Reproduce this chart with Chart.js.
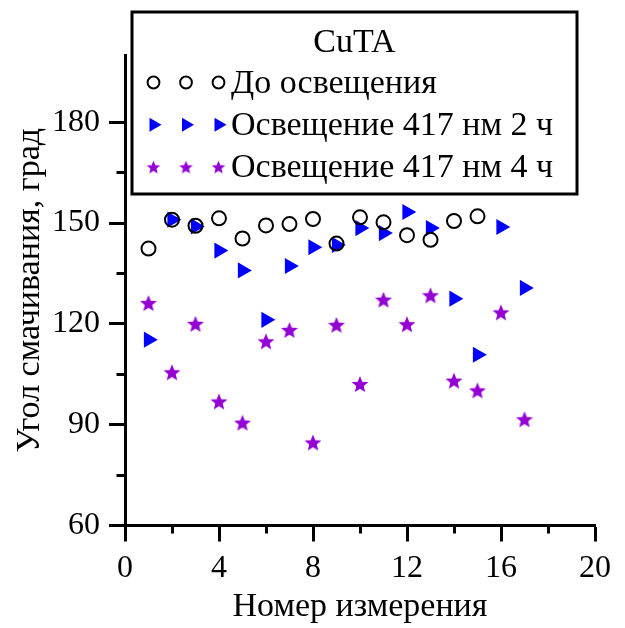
<!DOCTYPE html>
<html>
<head>
<meta charset="utf-8">
<script src="https://cdn.jsdelivr.net/npm/chart.js@4.4.1/dist/chart.umd.min.js"></script>
<style>
  body { margin: 0; background: #fff; }
  .wrapper { width: 625px; height: 628px; }
</style>
</head>
<body>
<div class="wrapper"><canvas id="angleChart"></canvas></div>
<script>
// data
const measurementNo = [1, 2, 3, 4, 5, 6, 7, 8, 9, 10, 11, 12, 13, 14, 15, 16, 17]
const beforeLight = [142.4, 151.0, 149.2, 151.4, 145.4, 149.3, 149.7, 151.2, 143.9, 151.7, 150.2, 146.4, 145.0, 150.6, 152.0]
const light2h = [115.3, 151.0, 149.0, 141.8, 135.9, 121.2, 137.2, 142.8, 143.5, 148.5, 147.0, 153.3, 148.5, 127.5, 110.8, 148.8, 130.7]
const light4h = [126.2, 105.6, 120.0, 96.9, 90.6, 114.8, 118.2, 84.7, 119.7, 102.1, 127.2, 119.9, 128.5, 103.1, 100.2, 123.4, 91.6]

const seriesNames = ['До освещения', 'Освещение 417 нм 2 ч', 'Освещение 417 нм 4 ч']
const legendTitle = 'CuTA'

const xTicks = [0, 2, 4, 6, 8, 10, 12, 14, 16, 18, 20]
const xLabels = [0, 4, 8, 12, 16, 20]
const yTicks = [60, 75, 90, 105, 120, 135, 150, 165, 180]
const yLabels = [60, 90, 120, 150, 180]

const FONT = "'Liberation Serif', 'Times New Roman', serif"
Chart.defaults.font.family = FONT
Chart.defaults.font.size = 32
Chart.defaults.color = '#000'

const toPoints = values => values.map((v, i) => ({ x: measurementNo[i], y: v }))

// filled five point star, chart.js only has an asterisk one
function makeStar(outer, color) {
	const size = Math.ceil(outer * 2) + 2
	const cnv = document.createElement('canvas')
	cnv.width = size
	cnv.height = size
	const ctx = cnv.getContext('2d')
	const c = size / 2
	ctx.beginPath()
	for (let i = 0; i < 10; i++) {
		const r = i % 2 ? outer * 0.44 : outer
		const a = -Math.PI / 2 + (i * Math.PI) / 5
		ctx.lineTo(c + r * Math.cos(a), c + r * Math.sin(a) + 0.8)
	}
	ctx.closePath()
	ctx.fillStyle = color
	ctx.fill()
	return cnv
}

const PURPLE = '#9400d3'
const BLUE = '#0000ff'
const starBig = makeStar(8.9, PURPLE)
const starSmall = makeStar(7.1, PURPLE)

// legend markers (three of each) inside a framed box over the plot
const legendMarks = [
	{ pointStyle: 'circle', radius: 5.9, borderWidth: 2, fill: 'rgba(0,0,0,0)', stroke: '#000' },
	{ pointStyle: 'triangle', rotation: 90, radius: 8, borderWidth: 0, fill: BLUE, stroke: BLUE },
	{ pointStyle: starSmall, radius: 7, borderWidth: 0, fill: PURPLE, stroke: PURPLE },
]

const boxLegend = {
	id: 'boxLegend',
	afterDraw(chart, args, opts) {
		const ctx = chart.ctx
		ctx.save()
		ctx.fillStyle = '#fff'
		ctx.fillRect(opts.left, opts.top, opts.width, opts.height)
		ctx.lineWidth = 3
		ctx.strokeStyle = '#000'
		ctx.strokeRect(opts.left, opts.top, opts.width, opts.height)

		ctx.font = '34px ' + FONT
		ctx.fillStyle = '#000'
		ctx.textAlign = 'center'
		ctx.textBaseline = 'alphabetic'
		ctx.fillText(legendTitle, opts.left + opts.width / 2, opts.titleBaseline)

		chart.data.datasets.forEach((ds, i) => {
			const y = opts.firstRow + i * opts.rowGap
			const mark = legendMarks[i]
			opts.markerX.forEach(mx => {
				ctx.fillStyle = mark.fill
				ctx.strokeStyle = mark.stroke
				ctx.lineWidth = mark.borderWidth
				Chart.helpers.drawPoint(ctx, mark, mx, y)
			})
			ctx.fillStyle = '#000'
			ctx.textAlign = 'left'
			ctx.fillText(ds.label, opts.textX, y + opts.baselineShift)
		})
		ctx.restore()
	},
}

const minorDashX = ctx => (xLabels.includes(ctx.tick.value) ? [] : [6.5, 100])
const minorDashY = ctx => (yLabels.includes(ctx.tick.value) ? [] : [0, 7.5, 8, 100])

new Chart(document.getElementById('angleChart'), {
	type: 'scatter',
	data: {
		datasets: [
			{
				label: seriesNames[0],
				data: toPoints(beforeLight),
				pointStyle: 'circle',
				pointRadius: 7,
				pointBorderWidth: 2,
				pointBorderColor: '#000',
				pointBackgroundColor: 'rgba(0,0,0,0)',
			},
			{
				label: seriesNames[1],
				data: toPoints(light2h),
				pointStyle: 'triangle',
				pointRotation: 90,
				pointRadius: 9.3,
				pointBorderWidth: 0,
				pointBackgroundColor: BLUE,
				pointBorderColor: BLUE,
			},
			{
				label: seriesNames[2],
				data: toPoints(light4h),
				pointStyle: starBig,
				pointRadius: 9,
				pointBorderWidth: 0,
				pointBackgroundColor: PURPLE,
			},
		],
	},
	options: {
		responsive: true,
		maintainAspectRatio: false,
		devicePixelRatio: 1,
		animation: false,
		layout: { padding: { top: 55, right: 30, left: 0, bottom: 0 } },
		plugins: {
			legend: { display: false },
			tooltip: { enabled: false },
			boxLegend: {
				left: 132,
				top: 12,
				width: 445,
				height: 182,
				titleBaseline: 52,
				firstRow: 82.5,
				rowGap: 42.2,
				baselineShift: 10.5,
				markerX: [153.5, 186, 218.5],
				textX: 231,
			},
		},
		scales: {
			x: {
				type: 'linear',
				min: 0,
				max: 20,
				afterBuildTicks: s => {
					s.ticks = xTicks.map(v => ({ value: v }))
				},
				afterFit: s => {
					s.height = 102.5
				},
				border: { display: true, color: '#000', width: 3 },
				grid: {
					drawOnChartArea: false,
					drawTicks: true,
					tickLength: 16,
					tickWidth: 3,
					tickColor: '#000',
					tickBorderDash: minorDashX,
				},
				ticks: {
					autoSkip: false,
					maxRotation: 0,
					padding: 8,
					callback: v => (xLabels.includes(v) ? String(v) : ''),
				},
				title: { display: true, text: 'Номер измерения', font: { size: 34 }, padding: { top: 0, bottom: 1 } },
			},
			y: {
				type: 'linear',
				min: 60,
				max: 200,
				afterBuildTicks: s => {
					s.ticks = yTicks.map(v => ({ value: v }))
				},
				afterFit: s => {
					s.width = 125
				},
				border: { display: true, color: '#000', width: 3 },
				grid: {
					drawOnChartArea: false,
					drawTicks: true,
					tickLength: 16,
					tickWidth: 3,
					tickColor: '#000',
					tickBorderDash: minorDashY,
				},
				ticks: {
					autoSkip: false,
					padding: 9,
					callback: v => (yLabels.includes(v) ? String(v) : ''),
				},
				title: { display: true, text: 'Угол смачивания, град', font: { size: 34 }, padding: { top: 10, bottom: 0 } },
			},
		},
	},
	plugins: [boxLegend],
})
</script>
</body>
</html>
